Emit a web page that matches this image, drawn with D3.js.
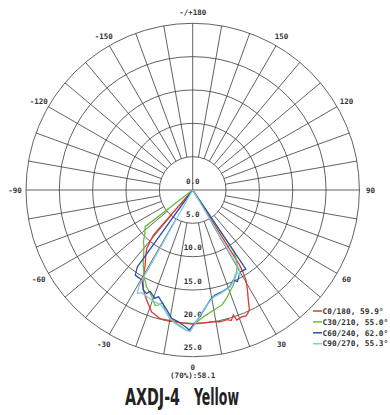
<!DOCTYPE html>
<html><head><meta charset="utf-8">
<script src="https://cdn.jsdelivr.net/npm/d3@7/dist/d3.min.js"></script>
<style>html,body{margin:0;padding:0;background:#fff;}svg{display:block;}</style>
</head><body>
<svg id="chart" width="390" height="415"></svg>
<script>
// ---- data ----
const ringValues = [5, 10, 15, 20, 25];
const ringLabels = ["0.0", "5.0", "10.0", "15.0", "20.0", "25.0"];
const ringLabelValues = [0, 5, 10, 15, 20, 25];
const angleTicks = [180, 150, 120, 90, 60, 30, 0, -30, -60, -90, -120, -150];
const angleTickLabels = ["-/+180", "150", "120", "90", "60", "30", "0", "-30", "-60", "-90", "-120", "-150"];
const seriesNames = ["C0/180, 59.9°", "C30/210, 55.0°", "C60/240, 62.0°", "C90/270, 55.3°"];
const seriesColors = ["#e2392b", "#6cbb3f", "#2f4fae", "#7fcbe2"];

const c0Angles = [-90, -41, -38.3, -35, -32.4, -29, -26.3, -22.7, -18.6, -14.3, -9.8, -4.7, 0, 4, 8.9, 12, 14.7, 16.5, 18, 18.7, 21.1, 23, 24.6, 25.3, 26.8, 28.7, 30.6, 31.5, 32, 90];
const c0Values = [0, 9.0, 11.1, 12.3, 13.3, 15.4, 16.7, 17.9, 19.3, 19.9, 19.9, 20.0, 20.1, 20.0, 20.0, 20.2, 20.1, 20.4, 19.7, 20.6, 20.4, 20.5, 20.1, 19.9, 18.5, 17.1, 15.7, 14.4, 13.2, 0];

const c30Angles = [-90, -52.4, -47.7, -43.7, -40.7, -33.9, -29.3, -25.4, -21, -18.1, -16.6, -14.9, -13, -10, -6.8, -4.6, -2.4, -1.1, 1.7, 4.8, 9.8, 14.2, 17.4, 20.2, 23.2, 25.6, 28.3, 30.2, 32.4, 34, 90];
const c30Values = [0, 9.0, 9.7, 10.7, 11.2, 13.3, 14.9, 16.1, 17.1, 18.2, 18.0, 17.5, 18.5, 19.5, 20.2, 20.6, 21.1, 21.0, 19.8, 19.1, 18.3, 17.8, 17.0, 16.2, 15.5, 14.7, 13.9, 13.3, 12.1, 10.9, 0];

const c60Angles = [-90, -35.8, -34, -29.5, -26.3, -24, -22.8, -19.2, -17.8, -15.5, -12.2, -9.3, -6.2, -3.2, -1.4, 0.3, 2.5, 6, 9, 12, 15.9, 21.1, 24.3, 26, 30.1, 33.9, 90];
const c60Values = [0, 14.2, 15.4, 15.5, 16.7, 17.0, 16.5, 17.2, 16.8, 17.4, 18.4, 19.5, 19.9, 20.5, 21.0, 20.25, 19.3, 17.8, 16.7, 16.1, 15.9, 15.5, 14.8, 15.3, 14.2, 14.3, 0];

const c90Angles = [-90, -29.3, -28.2, -26.4, -23.3, -20.4, -17.6, -16, -13, -10.9, -7.5, -4.6, -2.4, -1.1, 0.6, 3.4, 6.9, 10.9, 15.8, 21, 23.9, 26.5, 28.4, 28.8, 30.5, 90];
const c90Values = [0, 16.3, 17.6, 17.2, 17.4, 17.6, 17.8, 17.8, 18.5, 19.3, 20.2, 20.7, 21.1, 21.25, 20.25, 18.8, 17.4, 16.4, 16.0, 15.6, 15.0, 14.2, 14.1, 14.7, 13.8, 0];

const seriesAngles = [c0Angles, c30Angles, c60Angles, c90Angles];
const seriesValues = [c0Values, c30Values, c60Values, c90Values];

const centerNote = "(70%):58.1";
const titleParts = ["AXDJ-4", "Yellow"];

// ---- layout ----
const cx = 192.7, cy = 190;
const svg = d3.select("#chart");
const rScale = d3.scaleLinear().domain([0, 25]).range([0, 166.7]);
// chart angle: 0 at bottom, +90 right, 180 top -> d3 radial angle (clockwise from top)
const aScale = d3.scaleLinear().domain([-180, 180]).range([2 * Math.PI, 0]);
const px = (t, r) => cx + r * Math.sin(aScale(t));
const py = (t, r) => cy - r * Math.cos(aScale(t));

const g = svg.append("g");
const gridColor = "#3a3a3a";

// rings
g.selectAll("circle.ring").data(ringValues).join("circle")
  .attr("cx", cx).attr("cy", cy).attr("r", d => rScale(d))
  .attr("fill", "none").attr("stroke", gridColor).attr("stroke-width", 0.8);

// spokes every 10 degrees, from inner ring to outer ring
const spokeAngles = d3.range(-170, 181, 10).filter(a => a !== 0 && a !== 180 && a !== 90 && a !== -90);
g.selectAll("line.spoke").data(spokeAngles).join("line")
  .attr("x1", d => px(d, rScale(5))).attr("y1", d => py(d, rScale(5)))
  .attr("x2", d => px(d, rScale(25))).attr("y2", d => py(d, rScale(25)))
  .attr("stroke", gridColor).attr("stroke-width", 0.8);
// cross axes
g.append("line").attr("x1", px(-90, rScale(25))).attr("y1", py(-90, rScale(25)))
  .attr("x2", px(90, rScale(25))).attr("y2", py(90, rScale(25)))
  .attr("stroke", gridColor).attr("stroke-width", 0.8);
g.append("line").attr("x1", px(180, rScale(25))).attr("y1", py(180, rScale(25)))
  .attr("x2", cx).attr("y2", cy)
  .attr("stroke", gridColor).attr("stroke-width", 0.8);

const monoFont = "'DejaVu Sans Mono', 'Liberation Mono', monospace";

// ring labels
g.selectAll("text.rl").data(ringLabelValues).join("text")
  .attr("x", cx).attr("y", d => cy + rScale(d) - 6.5)
  .attr("text-anchor", "middle")
  .attr("font-family", monoFont).attr("font-weight", "bold").attr("font-size", 7.5)
  .attr("fill", "#333")
  .text((d, i) => ringLabels[i]);

// angle labels
const labelR = rScale(25) + 11;
g.selectAll("text.al").data(angleTicks).join("text")
  .attr("x", d => px(d, labelR)).attr("y", d => py(d, labelR) + 2.7)
  .attr("text-anchor", "middle")
  .attr("font-family", monoFont).attr("font-weight", "bold").attr("font-size", 7.5)
  .attr("fill", "#333")
  .text((d, i) => angleTickLabels[i]);

g.append("text").attr("x", cx).attr("y", py(0, labelR) + 10.5)
  .attr("text-anchor", "middle")
  .attr("font-family", monoFont).attr("font-weight", "bold").attr("font-size", 7.5)
  .attr("fill", "#333").text(centerNote);

// curves
const radial = d3.lineRadial().angle(d => aScale(d[0])).radius(d => rScale(d[1]));
seriesAngles.forEach((angles, i) => {
  const pts = angles.map((a, k) => [a, seriesValues[i][k]]);
  g.append("path").datum(pts)
    .attr("transform", `translate(${cx},${cy})`)
    .attr("d", radial)
    .attr("fill", "none").attr("stroke", seriesColors[i])
    .attr("stroke-width", 1.3).attr("stroke-linejoin", "round");
});

// legend
const lg = g.append("g").attr("transform", "translate(313,311)");
seriesNames.forEach((name, i) => {
  const y = i * 10.9;
  lg.append("line").attr("x1", 0).attr("x2", 9).attr("y1", y).attr("y2", y)
    .attr("stroke", seriesColors[i]).attr("stroke-width", 1.5);
  lg.append("text").attr("x", 9.5).attr("y", y + 2.7)
    .attr("font-family", monoFont).attr("font-weight", "bold").attr("font-size", 7.8)
    .attr("fill", "#333").text(name);
});

// title: two words, each horizontally condensed to the reference width
const titleFont = "'Liberation Sans Narrow', 'DejaVu Sans Condensed', sans-serif";
const titleX = [125, 194], titleW = [55, 45];
titleParts.forEach((word, i) => {
  const tg = g.append("g");
  const t = tg.append("text").attr("x", 0).attr("y", 0)
    .attr("font-family", titleFont).attr("font-weight", "bold").attr("font-size", 23)
    .attr("fill", "#222").text(word);
  const w = t.node().getComputedTextLength() || titleW[i];
  tg.attr("transform", `translate(${titleX[i]},405) scale(${titleW[i] / w},1)`);
});
</script>
</body></html>
